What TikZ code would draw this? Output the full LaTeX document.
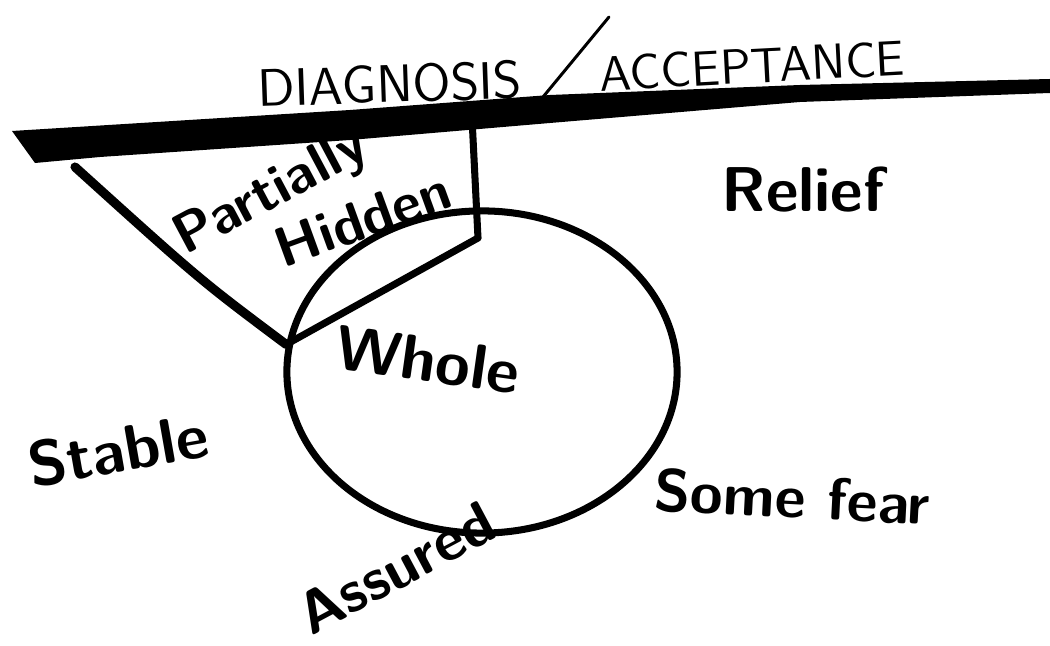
\documentclass[tikz,border=0pt]{standalone}
\usepackage{fontspec}
\usepackage{tikz}
\usetikzlibrary{shapes.geometric}

\tikzset{
  scrawl/.style={font=\sffamily\bfseries\fontsize{18}{20}\selectfont, inner sep=0pt},
  caps/.style={font=\sffamily\fontsize{15}{17}\selectfont, inner sep=0pt},
  pen/.style={line width=2pt, line cap=round, line join=round},
}

\begin{document}
\begin{tikzpicture}[x=0.01cm, y=-0.01cm]
        \useasboundingbox (0,0) rectangle (1050,646);

        % heavy ground line
        \fill (12,131) -- (350,110) -- (550,95) -- (800,85) -- (1050,79) -- (1050,93)
              -- (800,102) -- (550,123) -- (350,140) -- (100,157) -- (35,163) -- cycle;

        \node [draw, ellipse, line width=2pt, minimum width=3.9cm, minimum height=3.22cm] (whole) at (482,372) {};

        \coordinate (kink) at (whole.172);
        \coordinate (stemfoot) at (478,238);
        \coordinate (stemtop) at (472,118);
        \coordinate (wingtip) at (75,167);
        \coordinate (slashlow) at (543,97);
        \coordinate (slashtop) at (609,17);

        \draw [pen, line width=2.6pt] (wingtip) .. controls (200,280) .. (kink);
        \draw [pen] (kink) -- (stemfoot);
        \draw [pen] (stemtop) -- (stemfoot);
        \draw [line width=.85pt, line cap=round] (slashlow) -- (slashtop);

        \node [caps, rotate=2] (diagnosis) at (390,84) {DIAGNOSIS};
        \node [caps, rotate=3, font=\sffamily\fontsize{14}{16}\selectfont] (acceptance) at (752,66) {ACCEPTANCE};
        \node [scrawl, rotate=28, font=\sffamily\bfseries\fontsize{16}{18}\selectfont] (partially) at (272,194) {Partially};
        \node [scrawl, rotate=20, font=\sffamily\bfseries\fontsize{16}{18}\selectfont] (hidden) at (363,219) {Hidden};
        \node [scrawl] (relief) at (803,190) {Relief};
        \node [scrawl, rotate=-8] (wholelabel) at (428,360) {Whole};
        \node [scrawl, rotate=10] (stable) at (118,450) {Stable};
        \node [scrawl, rotate=-3, font=\sffamily\bfseries\fontsize{17}{19}\selectfont] (somefear) at (792,497) {Some fear};
        \node [scrawl, rotate=28, font=\sffamily\bfseries\fontsize{17}{19}\selectfont] (assured) at (396,568) {Assured};
\end{tikzpicture}
\end{document}
